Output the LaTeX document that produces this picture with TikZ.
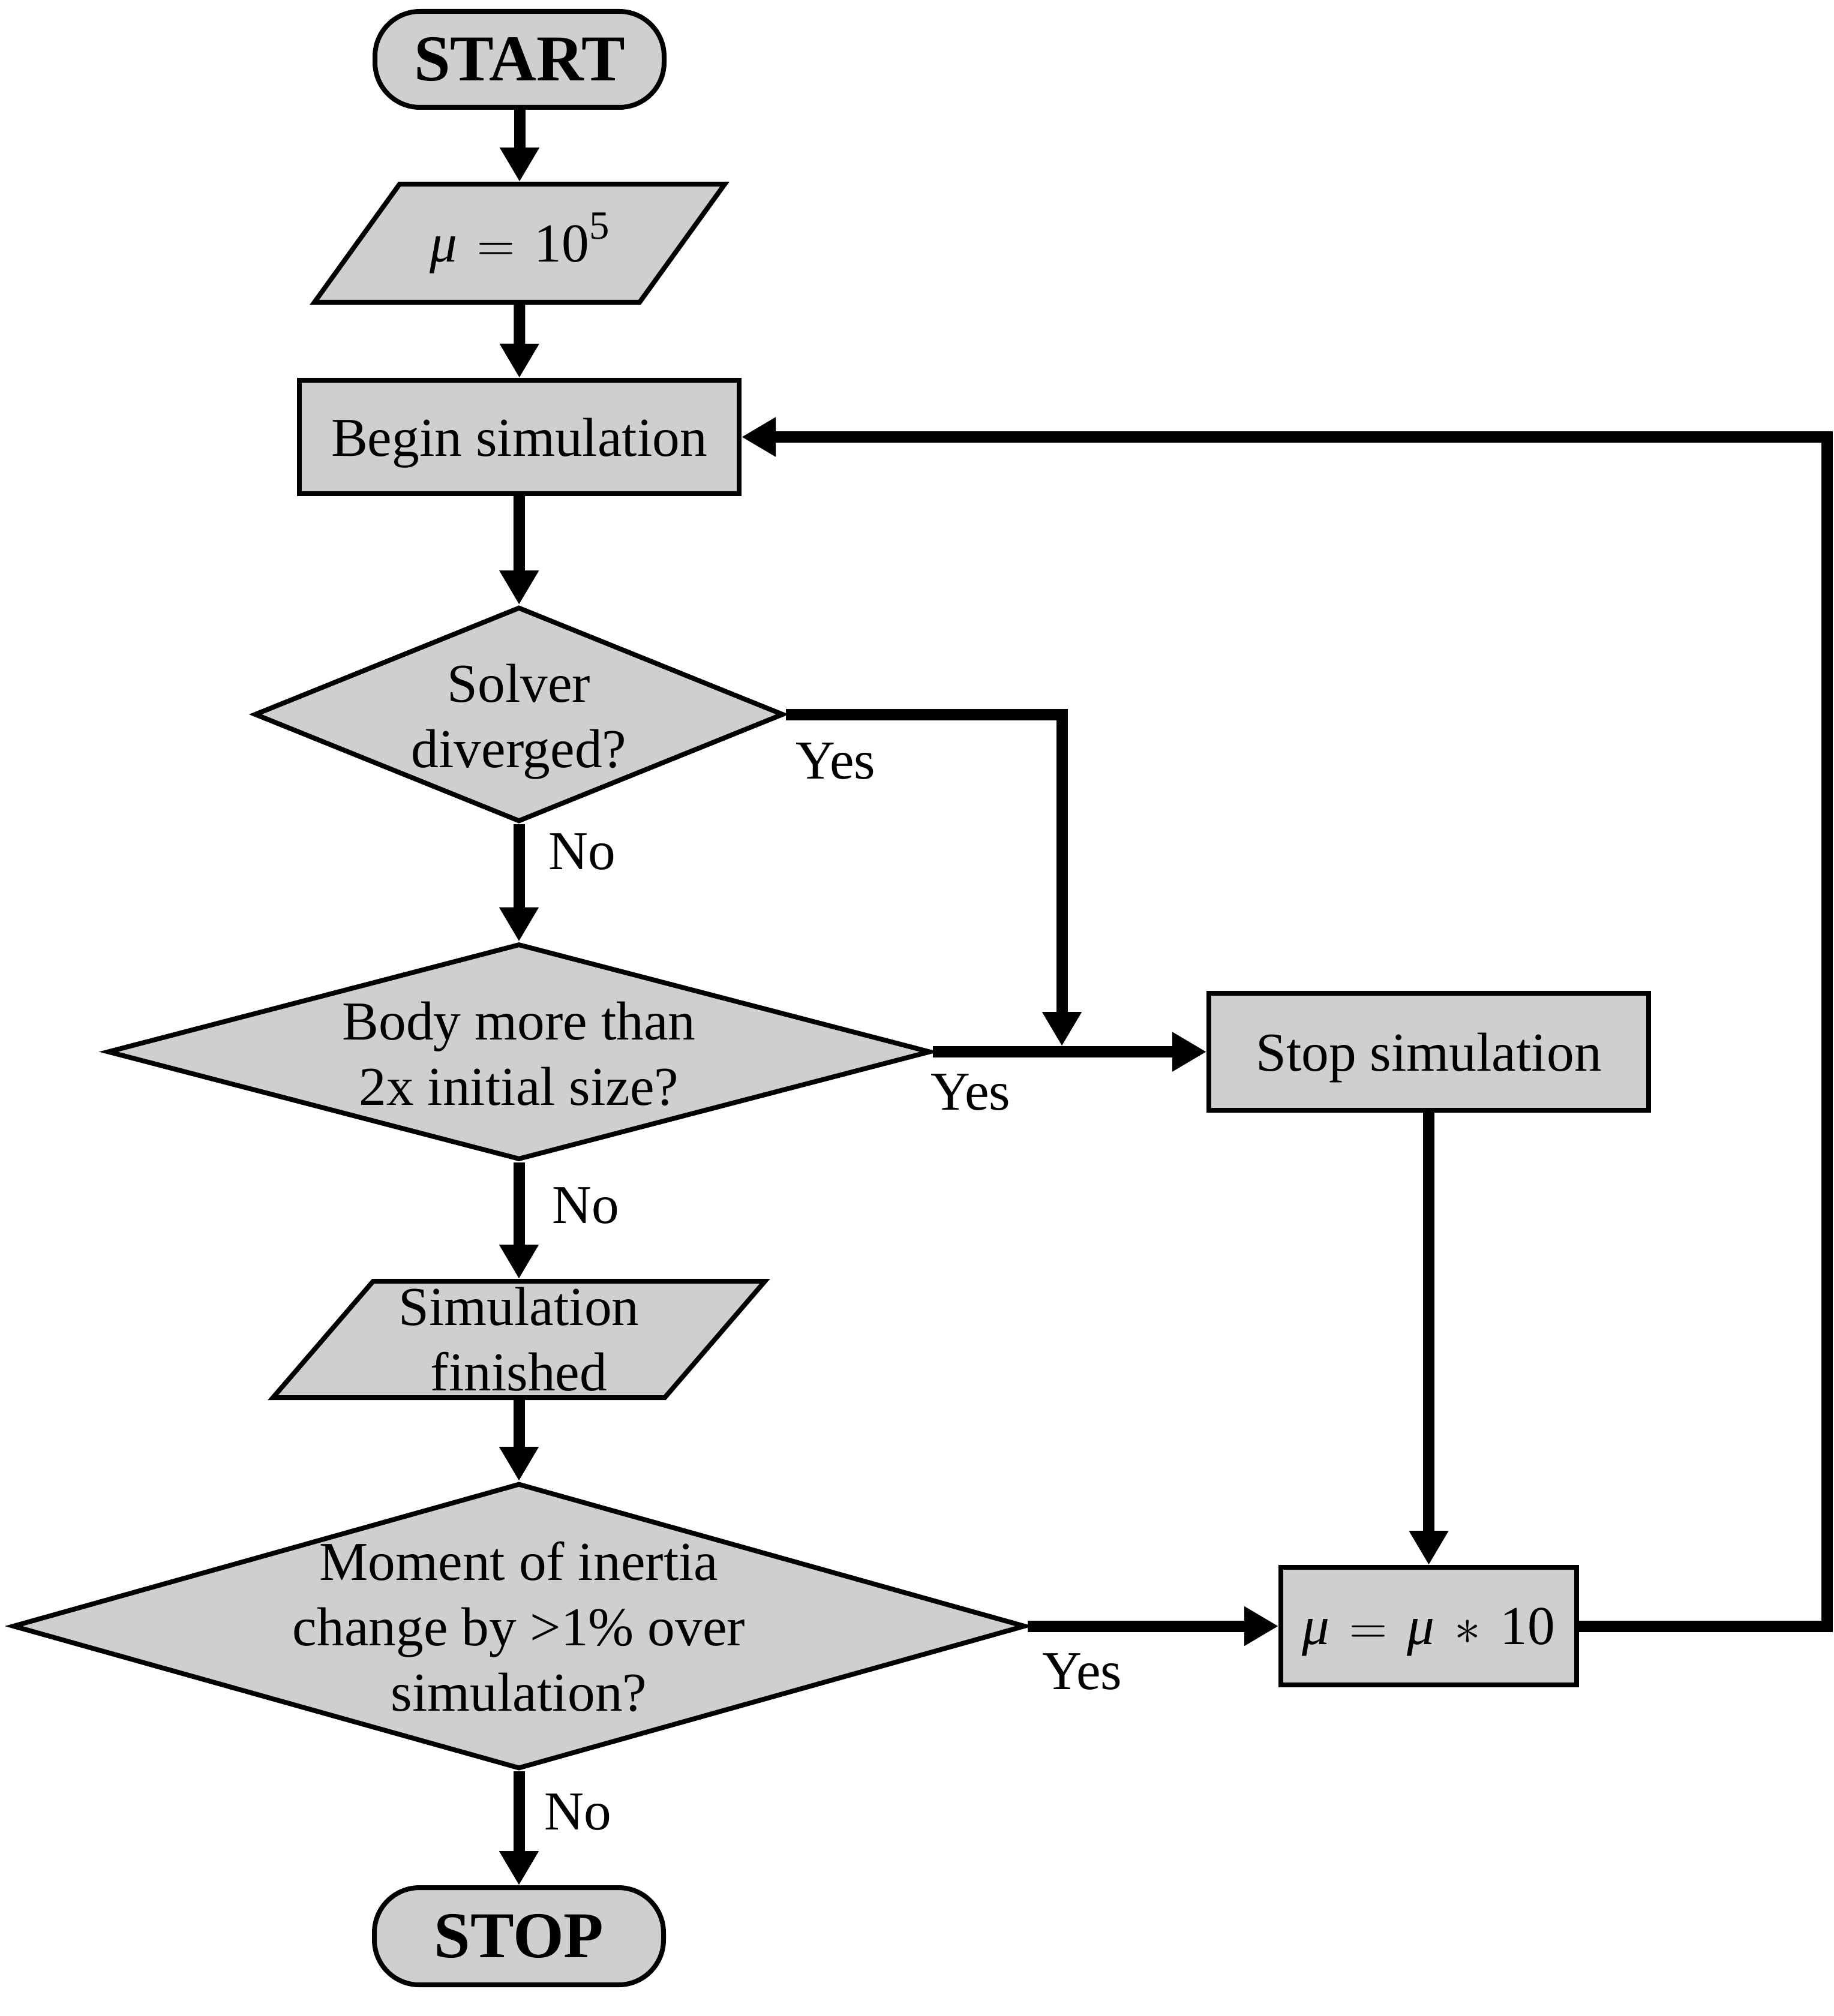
\documentclass[tikz,border=0pt]{standalone}
\usepackage{fontspec}
\setmainfont{Liberation Serif}
\usetikzlibrary{shapes.geometric,arrows.meta,calc}
\definecolor{boxgray}{RGB}{208,206,207}

\newcommand{\muvar}{{\itshape μ}}
\newcommand{\opgap}{\hspace{0.36em}}

\tikzset{
  shapeline/.style={draw=black, line width=0.08cm, fill=boxgray},
  bodyfont/.style={font=\fontsize{26}{31}\selectfont},
  procbox/.style={shapeline, rectangle, inner sep=0pt, bodyfont, text depth=0pt},
  termbox/.style={shapeline, rectangle, rounded corners=0.75cm, inner sep=0pt,
    minimum width=4.82cm, font=\fontsize{31}{37}\selectfont\bfseries},
  decision/.style={shapeline, diamond, inner sep=0pt},
  txt/.style={bodyfont, align=center, inner sep=0pt, text depth=0pt},
  iobox/.style={bodyfont, align=center, inner sep=0pt, outer sep=0.04cm},
  flow/.style={line width=0.19cm, -{Triangle[length=0.57cm,width=0.62cm]}},
  lbl/.style={bodyfont, inner sep=0pt}
}

\begin{document}
\begin{tikzpicture}
\useasboundingbox (0,0) rectangle (30.56,-33.61);

% terminals and process boxes
\node[termbox, minimum height=1.60cm] (start) at (8.66,-0.99) {START};
\node[procbox, minimum width=7.33cm, minimum height=1.89cm] (begin) at (8.655,-7.285) {Begin simulation};
\node[procbox, minimum width=7.33cm, minimum height=1.95cm] (stopsim) at (23.815,-17.535) {Stop simulation};
\node[procbox, minimum width=4.93cm, minimum height=1.96cm] (mu) at (23.815,-27.11)
  {\muvar\opgap$=$\opgap\muvar\opgap$\ast$\opgap 10};
\node[termbox, minimum height=1.62cm] (stop) at (8.65,-32.28) {STOP};

% input/output parallelograms
\coordinate (muc) at (8.66,-4.055);
\draw[shapeline] ($(muc)+(-2.00,0.985)$) -- ($(muc)+(3.42,0.985)$)
  -- ($(muc)+(2.00,-0.985)$) -- ($(muc)+(-3.42,-0.985)$) -- cycle;
\node[iobox, minimum height=1.97cm] (mu0) at (muc)
  {\muvar\opgap$=$\opgap 10\raisebox{0.42em}{\fontsize{19}{19}\selectfont 5}};

\coordinate (sfc) at (8.65,-22.33);
\draw[shapeline] ($(sfc)+(-2.43,0.97)$) -- ($(sfc)+(4.10,0.97)$)
  -- ($(sfc)+(2.43,-0.97)$) -- ($(sfc)+(-4.10,-0.97)$) -- cycle;
\node[iobox, minimum height=1.94cm] (simfin) at (sfc) {Simulation\\finished};

% decisions
\node[decision, minimum width=8.82cm, minimum height=3.58cm] (solver) at (8.65,-11.91) {};
\node[txt] (solvertxt) at (8.65,-11.93) {Solver\\diverged?};
\node[decision, minimum width=13.72cm, minimum height=3.60cm] (body) at (8.65,-17.535) {};
\node[txt] (bodytxt) at (8.65,-17.56) {Body more than\\2x initial size?};
\node[decision, minimum width=16.88cm, minimum height=4.76cm] (moment) at (8.65,-27.11) {};
\node[txt] (momenttxt) at (8.65,-27.11) {Moment of inertia\\change by >1\% over\\simulation?};

% main flow
\draw[flow] (start) -- (mu0);
\draw[flow] (mu0) -- (begin);
\draw[flow] (begin) -- (solver);
\draw[flow] (solver) -- (body);
\draw[flow] (body) -- (simfin);
\draw[flow] (simfin) -- (moment);
\draw[flow] (moment) -- (stop);

% branches
\coordinate (join) at (17.70,-17.44);
\draw[flow] (solver.east) -| (join);
\draw[flow] (body.east) -- (stopsim.west);
\draw[flow] (stopsim) -- (mu);
\draw[flow] (moment.east) -- (mu.west);
\coordinate (loopcorner) at (30.45,-27.11);
\draw[flow] (mu.east) -- (loopcorner) |- (begin.east);

% branch labels
\node[lbl] (yes1) at (13.93,-12.69) {Yes};
\node[lbl] (no1) at (9.70,-14.20) {No};
\node[lbl] (yes2) at (16.18,-18.21) {Yes};
\node[lbl] (no2) at (9.76,-20.10) {No};
\node[lbl] (yes3) at (18.04,-27.87) {Yes};
\node[lbl] (no3) at (9.63,-30.21) {No};
\end{tikzpicture}
\end{document}
